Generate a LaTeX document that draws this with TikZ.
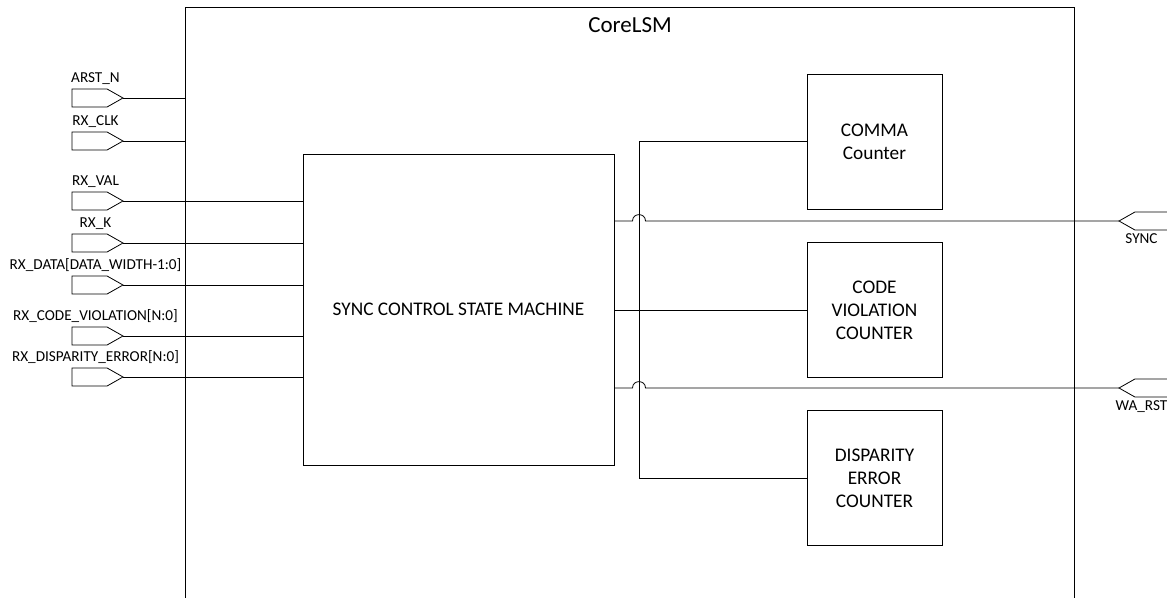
\documentclass[tikz,border=0pt]{standalone}
\usepackage{fontspec}
\setmainfont{Carlito}
\usetikzlibrary{positioning,shapes.symbols}

\begin{document}
\begin{tikzpicture}[x=1pt,y=-1pt,
  line width=0.8pt,
  every node/.style = {inner sep=0pt, outer sep=0pt},
  inport/.style  = {draw, signal, signal to=east, signal pointer angle=59,
    minimum width=51pt, minimum height=18pt, anchor=west},
  outport/.style = {inport, signal to=west},
  pinlbl/.style  = {font=\fontsize{15.2}{18}\selectfont, anchor=base},
  block/.style   = {draw, align=center, font=\fontsize{19.3}{23}\selectfont},
  counter/.style = {block, minimum width=135pt, minimum height=135pt}]
\useasboundingbox (0,0) rectangle (1167,597);
\clip (0,0) rectangle (1167,597);

% outer block, its bottom edge runs off the page
\node[draw, anchor=north west, minimum width=889pt, minimum height=620pt] (core) at (185,7) {};
\node[font=\fontsize{23}{27}\selectfont] (coretitle) at (630,25) {CoreLSM};

\node[block, minimum width=311pt, minimum height=311pt] (fsm) at (458.5,309.5)
  {SYNC CONTROL STATE MACHINE};

\node[counter] (comma)    at (874.5,141.5) {COMMA\\Counter};
\node[counter] (codeviol) at (874.5,310)   {CODE\\VIOLATION\\COUNTER};
\node[counter] (disperr)  at (874.5,478)   {DISPARITY\\ERROR\\COUNTER};

% input pins
\foreach \pin/\y/\txt in {arst/98/ARST\_N, rxclk/141/RX\_CLK, rxval/201/RX\_VAL,
    rxk/243/RX\_K, rxdata/285/RX\_DATA[DATA\_WIDTH-1:0],
    rxcv/336/RX\_CODE\_VIOLATION[N:0], rxde/377/RX\_DISPARITY\_ERROR[N:0]} {
  \node[inport] (\pin) at (72,\y) {};
  \node[pinlbl] (\pin lbl) at ([xshift=23.5pt,yshift=15.3pt]\pin.west) {\txt};
}

\draw (arst.east)  -- (arst.east -| core.west);
\draw (rxclk.east) -- (rxclk.east -| core.west);
\foreach \pin in {rxval,rxk,rxdata,rxcv,rxde}
  \draw (\pin.east) -- (\pin.east -| fsm.west);

% counter bus
\coordinate (tap) at (639,0);
\draw (comma.west) -| (tap |- disperr.west) -- (disperr.west);
\draw (fsm.east |- codeviol.west) -- (codeviol.west);

% output pins
\node[outport] (sync)  at (1119,221) {};
\node[pinlbl] (synclbl) at ([xshift=22.5pt,yshift=-22.5pt]sync.west) {SYNC};
\node[outport] (warst) at (1119,388) {};
\node[pinlbl] (warstlbl) at ([xshift=22.5pt,yshift=-22.5pt]warst.west) {WA\_RST};

\foreach \pin in {sync,warst}
  \draw (fsm.east |- \pin.west) -- ([xshift=-6.5pt]tap |- \pin.west)
    .. controls +(0pt,8.5pt) and +(0pt,8.5pt) .. ([xshift=6.5pt]tap |- \pin.west)
    -- (\pin.west);
\end{tikzpicture}
\end{document}
